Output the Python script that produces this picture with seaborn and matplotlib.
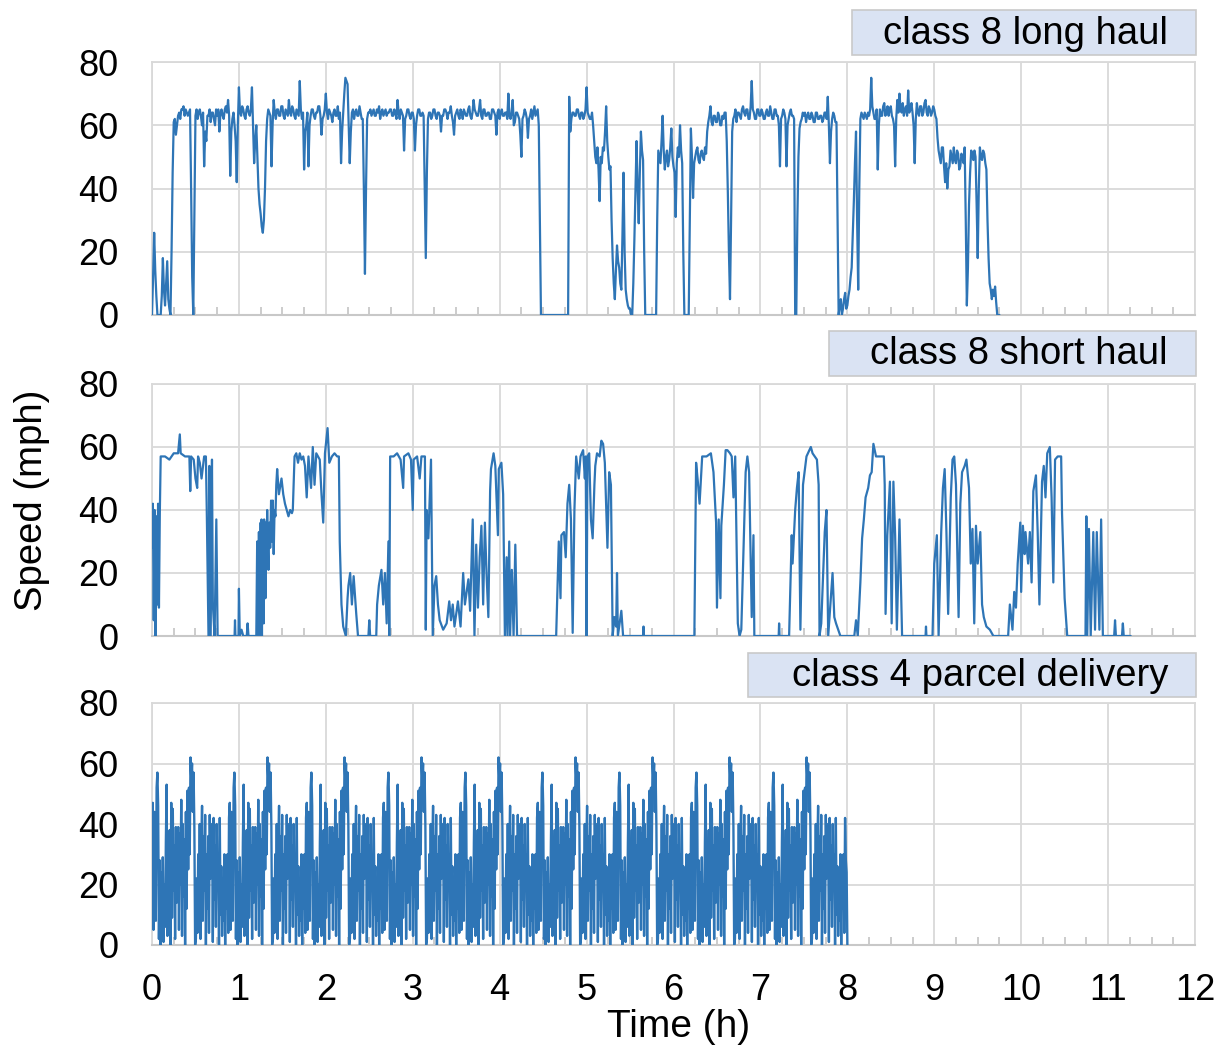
import numpy as np
import pandas as pd
import matplotlib
matplotlib.use("Agg")
import matplotlib.pyplot as plt
import seaborn as sns
from matplotlib.patches import Rectangle
from matplotlib.ticker import MultipleLocator

# ---------------- data ----------------
# class 8 long haul: speed (mph) sampled every 0.0125 h (one row = a quarter hour)
LONG_STEP_H = 0.0125
LONG_V = [
    0, 12, 26, 14, 6, 0, 0, 0, 0, 6, 18, 8, 3, 10, 17, 5, 2, 0, 20, 45,
    61, 62, 57, 60, 63, 64, 62, 65, 65, 66, 63, 65, 64, 63, 64, 65, 40, 12, 0, 30,
    63, 65, 62, 64, 65, 63, 60, 64, 47, 58, 55, 63, 63, 65, 61, 64, 64, 62, 60, 65,
    63, 65, 58, 64, 65, 63, 62, 65, 66, 64, 68, 63, 44, 58, 62, 64, 60, 55, 42, 60,
    72, 64, 63, 66, 65, 63, 62, 65, 66, 64, 63, 65, 72, 60, 48, 55, 60, 50, 40, 35,
    32, 28, 26, 30, 40, 55, 62, 65, 64, 63, 47, 60, 68, 64, 62, 65, 65, 63, 63, 66,
    66, 63, 62, 65, 64, 63, 68, 64, 63, 66, 65, 63, 62, 65, 64, 63, 74, 65, 62, 64,
    46, 58, 60, 64, 47, 60, 63, 65, 65, 63, 62, 64, 64, 66, 66, 63, 57, 62, 63, 65,
    70, 64, 62, 65, 64, 63, 61, 64, 65, 63, 63, 66, 62, 64, 48, 58, 64, 70, 75, 74,
    73, 60, 48, 58, 64, 65, 62, 64, 65, 63, 63, 66, 64, 62, 62, 40, 13, 40, 62, 64,
    64, 65, 63, 64, 65, 63, 63, 65, 64, 66, 62, 64, 65, 63, 64, 65, 63, 64, 64, 65,
    65, 63, 63, 65, 64, 62, 68, 64, 62, 65, 64, 63, 52, 62, 63, 65, 65, 63, 62, 64,
    64, 62, 52, 60, 63, 65, 65, 63, 63, 64, 63, 40, 18, 45, 62, 64, 64, 62, 63, 65,
    65, 63, 62, 64, 64, 63, 58, 63, 63, 65, 65, 64, 62, 64, 64, 66, 63, 61, 57, 63,
    64, 65, 63, 62, 65, 64, 62, 65, 64, 63, 63, 65, 66, 63, 62, 64, 68, 65, 64, 63,
    63, 65, 68, 63, 62, 65, 65, 63, 63, 64, 64, 62, 62, 65, 65, 64, 63, 57, 64, 65,
    62, 64, 65, 63, 63, 64, 64, 62, 70, 63, 62, 64, 68, 60, 61, 64, 64, 63, 62, 57,
    50, 62, 63, 65, 64, 62, 56, 62, 63, 65, 62, 64, 66, 63, 64, 65, 60, 30, 0, 0,
    0, 0, 0, 0, 0, 0, 0, 0, 0, 0, 0, 0, 0, 0, 0, 0, 0, 0, 0, 0,
    0, 0, 0, 0, 69, 58, 62, 64, 64, 63, 63, 65, 65, 63, 62, 64, 64, 62, 63, 65,
    72, 64, 63, 62, 62, 64, 60, 55, 50, 48, 53, 46, 36, 50, 48, 53, 52, 58, 66, 55,
    50, 46, 47, 30, 18, 10, 5, 14, 22, 17, 15, 10, 8, 25, 45, 20, 8, 5, 3, 2,
    2, 0, 0, 10, 24, 40, 55, 40, 29, 45, 58, 52, 49, 20, 0, 0, 0, 0, 0, 0,
    0, 0, 0, 0, 0, 30, 52, 50, 48, 55, 63, 52, 46, 50, 52, 47, 49, 53, 59, 50,
    47, 45, 31, 48, 53, 50, 60, 52, 48, 20, 0, 0, 0, 0, 0, 30, 59, 50, 37, 48,
    50, 52, 53, 49, 48, 51, 52, 50, 49, 53, 51, 58, 61, 63, 66, 61, 60, 63, 63, 61,
    61, 64, 63, 60, 60, 63, 62, 64, 64, 55, 39, 20, 5, 30, 58, 62, 63, 65, 61, 64,
    64, 63, 62, 65, 66, 64, 63, 65, 65, 62, 62, 66, 74, 65, 64, 62, 62, 65, 65, 63,
    63, 65, 64, 62, 62, 64, 65, 63, 63, 66, 64, 62, 62, 65, 65, 63, 63, 60, 47, 62,
    63, 65, 64, 62, 47, 60, 62, 64, 65, 63, 63, 62, 0, 0, 30, 50, 59, 61, 62, 64,
    63, 64, 61, 63, 64, 62, 62, 64, 63, 61, 61, 64, 64, 62, 62, 63, 63, 61, 62, 64,
    64, 62, 69, 60, 48, 58, 62, 64, 63, 61, 61, 30, 0, 3, 5, 0, 2, 5, 7, 2,
    3, 6, 8, 12, 15, 25, 36, 48, 58, 30, 8, 40, 62, 64, 63, 62, 64, 63, 62, 64,
    63, 65, 75, 66, 64, 62, 62, 65, 46, 60, 65, 63, 63, 66, 67, 63, 64, 66, 63, 65,
    66, 63, 62, 60, 47, 62, 68, 64, 70, 65, 64, 67, 63, 65, 66, 63, 71, 64, 65, 67,
    64, 60, 48, 62, 67, 64, 63, 66, 66, 63, 64, 67, 68, 64, 63, 66, 65, 63, 64, 66,
    65, 63, 62, 56, 52, 50, 48, 53, 53, 47, 42, 48, 40, 46, 47, 52, 50, 48, 53, 49,
    48, 52, 51, 46, 47, 51, 50, 48, 53, 30, 3, 15, 35, 45, 52, 51, 49, 52, 50, 35,
    18, 40, 53, 50, 49, 52, 51, 48, 46, 30, 18, 10, 8, 5, 8, 6, 9, 4, 0, 0,
    0,
]

# class 8 short haul: (time h, speed mph) breakpoints
SHORT_T = [
    0.0, 0.01, 0.02, 0.03, 0.04, 0.05, 0.06, 0.07, 0.08, 0.09, 0.10, 0.15, 0.2, 0.25, 0.3, 0.32, 0.33, 0.38, 0.4, 0.43,
    0.44, 0.45, 0.48, 0.5, 0.52, 0.53, 0.55, 0.57, 0.6, 0.62, 0.63, 0.65, 0.66, 0.675, 0.69, 0.70, 0.72, 0.74, 0.755, 0.95,
    0.955, 0.96, 0.995, 1.0, 1.01, 1.03, 1.05, 1.09, 1.1, 1.11,
    1.2, 1.21, 1.215, 1.22, 1.225, 1.23, 1.235, 1.24, 1.25, 1.255, 1.26, 1.265, 1.27, 1.275, 1.28, 1.285, 1.29,
    1.30, 1.305, 1.31, 1.32, 1.325, 1.33, 1.34, 1.35, 1.36, 1.37, 1.38, 1.39, 1.40, 1.41, 1.42, 1.43, 1.44,
    1.46, 1.49, 1.51, 1.53, 1.55, 1.57, 1.59, 1.61, 1.62, 1.64, 1.66, 1.68, 1.70, 1.72,
    1.74, 1.76, 1.78, 1.80, 1.83, 1.85, 1.87, 1.89, 1.91, 1.93, 1.95, 1.97, 1.99, 2.02, 2.04, 2.07, 2.10, 2.13, 2.15, 2.16,
    2.18, 2.2, 2.23, 2.25, 2.26, 2.28, 2.30, 2.32, 2.35, 2.37, 2.49, 2.5, 2.51, 2.58, 2.59, 2.61, 2.64, 2.66, 2.68, 2.70,
    2.72, 2.73, 2.74, 2.78, 2.82, 2.86, 2.89, 2.90, 2.95, 2.98, 3.0, 3.01, 3.05, 3.08, 3.1, 3.14, 3.15, 3.16, 3.18, 3.21,
    3.23, 3.25, 3.27, 3.29, 3.31, 3.35, 3.39, 3.42, 3.44, 3.46, 3.48, 3.52, 3.55, 3.58, 3.60, 3.64, 3.66, 3.69, 3.71, 3.73,
    3.75, 3.77, 3.79, 3.81, 3.83, 3.85, 3.87, 3.89, 3.90, 3.93, 3.95, 3.98, 3.99, 4.02, 4.04, 4.06, 4.08, 4.09, 4.11, 4.12,
    4.14, 4.16, 4.18, 4.20, 4.65, 4.66, 4.68, 4.70, 4.71, 4.74, 4.76, 4.78, 4.80, 4.82, 4.84, 4.86, 4.88, 4.91, 4.93, 4.96,
    4.98, 4.99, 5.0, 5.01, 5.03, 5.05, 5.07, 5.09, 5.10, 5.12, 5.15, 5.17, 5.19, 5.21, 5.24, 5.26, 5.28, 5.29, 5.30, 5.32,
    5.34, 5.35, 5.36, 5.38, 5.40, 5.42, 5.65, 5.655, 5.66, 6.24, 6.26, 6.28, 6.30, 6.33, 6.38, 6.43, 6.46, 6.49, 6.50, 6.52,
    6.54, 6.55, 6.58, 6.60, 6.62, 6.65, 6.67, 6.69, 6.71, 6.74, 6.76, 6.78, 6.83, 6.85, 6.87, 6.90, 6.92, 6.93, 7.21, 7.215,
    7.22, 7.33, 7.36, 7.37, 7.40, 7.42, 7.44, 7.46, 7.49, 7.53, 7.58, 7.60, 7.65, 7.67, 7.68, 7.70, 7.74, 7.76, 7.78, 7.83,
    7.85, 7.87, 7.92, 8.08, 8.10, 8.12, 8.15, 8.17, 8.19, 8.21, 8.24, 8.26, 8.28, 8.30, 8.33, 8.37, 8.42, 8.43, 8.44, 8.46,
    8.49, 8.51, 8.53, 8.55, 8.57, 8.60, 8.63, 8.90, 8.905, 8.91, 8.98, 9.0, 9.03, 9.05, 9.08, 9.10, 9.12, 9.14, 9.16, 9.19,
    9.21, 9.23, 9.25, 9.28, 9.30, 9.32, 9.35, 9.37, 9.40, 9.42, 9.44, 9.46, 9.48, 9.50, 9.53, 9.55, 9.57, 9.60, 9.64, 9.68,
    9.85, 9.87, 9.90, 9.92, 9.94, 9.96, 9.99, 10.0, 10.02, 10.04, 10.05, 10.08, 10.10, 10.12, 10.14, 10.17, 10.19, 10.21, 10.24, 10.26,
    10.28, 10.30, 10.33, 10.35, 10.37, 10.39, 10.42, 10.46, 10.47, 10.50, 10.53, 10.74, 10.75, 10.76, 10.78, 10.80, 10.83, 10.85, 10.87, 10.90,
    10.92, 10.94, 11.07, 11.08, 11.09, 11.16, 11.17, 11.18, 11.26,
]
SHORT_V = [
    28, 42, 5, 40, 0, 38, 10, 42, 9, 39, 57, 57, 56, 58, 58, 64, 58, 57, 57, 57,
    46, 57, 56, 50, 47, 57, 55, 50, 57, 57, 40, 0, 54, 0, 56, 10, 0, 37, 0, 0,
    5, 0, 0, 15, 0, 2, 0, 0, 4, 0,
    0, 30, 8, 29, 0, 33, 5, 0, 36, 12, 37, 0, 36, 14, 36, 4, 37,
    30, 12, 36, 22, 40, 30, 21, 36, 28, 43, 30, 43, 26, 40, 38, 48, 53,
    45, 50, 45, 42, 40, 38, 40, 39, 40, 57, 58, 55, 58, 56,
    57, 54, 44, 57, 47, 60, 48, 58, 57, 56, 45, 36, 58, 66, 55, 57, 58, 57, 57, 30,
    10, 3, 0, 12, 16, 20, 10, 19, 7, 0, 0, 5, 0, 0, 10, 16, 21, 10, 20, 4,
    30, 0, 57, 57, 58, 56, 47, 57, 58, 56, 40, 56, 57, 50, 57, 57, 2, 40, 31, 56,
    0, 16, 19, 10, 5, 2, 4, 11, 5, 10, 3, 11, 3, 20, 10, 18, 8, 37, 0, 29,
    9, 25, 35, 10, 36, 19, 6, 46, 53, 58, 54, 32, 53, 55, 45, 0, 25, 0, 30, 0,
    21, 0, 29, 0, 0, 10, 30, 12, 32, 33, 25, 42, 48, 37, 1, 40, 57, 50, 57, 59,
    50, 57, 0, 57, 58, 37, 31, 48, 54, 58, 57, 62, 61, 55, 28, 52, 48, 23, 0, 6,
    3, 20, 0, 4, 8, 0, 0, 3, 0, 0, 55, 49, 42, 57, 57, 58, 52, 36, 9, 37,
    12, 35, 48, 59, 59, 58, 57, 44, 57, 4, 0, 2, 52, 57, 52, 6, 32, 0, 0, 4,
    0, 0, 32, 23, 40, 47, 52, 2, 48, 57, 60, 58, 56, 48, 0, 4, 33, 40, 0, 20,
    6, 4, 0, 0, 5, 0, 17, 31, 37, 44, 47, 51, 52, 61, 57, 57, 57, 48, 7, 32,
    49, 4, 49, 32, 2, 37, 0, 0, 3, 0, 0, 23, 32, 0, 33, 47, 53, 33, 7, 44,
    56, 57, 48, 6, 42, 52, 54, 56, 47, 23, 34, 4, 35, 23, 33, 10, 6, 3, 2, 0,
    0, 10, 2, 14, 9, 23, 36, 14, 35, 26, 33, 23, 33, 17, 46, 51, 33, 10, 49, 54,
    44, 58, 60, 44, 17, 56, 57, 57, 39, 12, 0, 0, 38, 0, 34, 0, 33, 2, 33, 2,
    37, 0, 0, 5, 0, 0, 4, 0, 0,
]

# class 4 parcel delivery: one repeating drive cycle (speed mph), repeated 9 times, then final samples
PARCEL_CYCLE_H = 0.886
PARCEL_CYCLE_V = [
    42, 47, 5, 44, 30, 8, 52, 57, 46, 2,
    28, 0, 24, 5, 29, 1, 20, 6, 34, 53,
    3, 30, 12, 38, 0, 47, 9, 45, 18, 33,
    2, 39, 14, 30, 39, 5, 37, 20, 48, 3,
    40, 16, 35, 0, 44, 12, 51, 25, 52, 30,
    62, 55, 60, 44, 57, 39, 0, 2, 22, 4,
    30, 10, 40, 2, 33, 46, 8, 36, 18, 43,
    0, 30, 12, 36, 4, 43, 22, 28, 40, 1,
    42, 15, 33, 6, 40, 20, 30, 0, 42, 10,
    26, 3, 22, 8, 30, 0, 25, 12, 30, 4,
]
PARCEL_REPEATS = 9
PARCEL_TAIL_V = [42, 28, 24, 0]

TITLES = ["class 8 long haul", "class 8 short haul", "class 4 parcel delivery"]
X_TICKS = list(range(0, 13))
Y_TICKS = [0, 20, 40, 60, 80]

# ---------------- build frames ----------------
long_df = pd.DataFrame({"t": np.arange(len(LONG_V)) * LONG_STEP_H, "v": LONG_V})
short_df = pd.DataFrame({"t": SHORT_T, "v": SHORT_V})
parcel_v = list(PARCEL_CYCLE_V) * PARCEL_REPEATS + PARCEL_TAIL_V
dt = PARCEL_CYCLE_H / len(PARCEL_CYCLE_V)
parcel_df = pd.DataFrame({"t": np.arange(len(parcel_v)) * dt, "v": parcel_v})
frames = [long_df, short_df, parcel_df]
widths = [1.6, 1.6, 1.7]

# ---------------- style ----------------
sns.set_theme(style="white")
plt.rcParams['font.family'] = ['Liberation Sans', 'DejaVu Sans']

W_PX, H_PX = 1225, 1048
fig = plt.figure(figsize=(W_PX / 100, H_PX / 100), dpi=100)
fig.patch.set_facecolor("white")

LINE_C = "#2e75b6"
GRID_C = "#d9d9d9"
left_px, right_px = 152, 1195
panels = [(62, 315), (384, 636), (703, 945)]
boxes = [(852, 10, 1196, 55), (829, 331, 1196, 376), (748, 653, 1196, 697)]

for i, ((top, bot), df, title, box, lw) in enumerate(zip(panels, frames, TITLES, boxes, widths)):
    ax = fig.add_axes([left_px / W_PX, 1 - bot / H_PX, (right_px - left_px) / W_PX, (bot - top) / H_PX])
    sns.lineplot(data=df, x="t", y="v", ax=ax, color=LINE_C, lw=lw,
                 estimator=None, sort=False, zorder=3)
    ax.set_xlim(0, 12)
    ax.set_ylim(0, 80)
    ax.set_xticks(X_TICKS)
    ax.set_yticks(Y_TICKS)
    ax.xaxis.set_minor_locator(MultipleLocator(0.25))
    ax.grid(True, which="major", color=GRID_C, lw=1.3, zorder=0)
    ax.set_axisbelow(True)
    for s in ["top", "right", "left"]:
        ax.spines[s].set_color(GRID_C)
        ax.spines[s].set_linewidth(1.3)
    ax.spines["bottom"].set_color("#c8c8c8")
    ax.spines["bottom"].set_linewidth(1.5)
    ax.tick_params(axis="both", which="major", length=0, labelsize=26, colors="black")
    ax.tick_params(axis="y", pad=24)
    ax.tick_params(axis="x", pad=20)
    ax.tick_params(axis="x", which="minor", direction="in", length=6, width=1.3,
                   color="#c8c8c8", bottom=True)
    ax.set_xlabel("")
    ax.set_ylabel("")
    if i < 2:
        ax.set_xticklabels([])
    for lab in ax.get_yticklabels() + ax.get_xticklabels():
        lab.set_fontsize(26)

    x0, y0, x1, y1 = box
    fig.patches.append(Rectangle((x0 / W_PX, 1 - y1 / H_PX), (x1 - x0) / W_PX, (y1 - y0) / H_PX,
                                 transform=fig.transFigure, facecolor="#dae3f3",
                                 edgecolor="#c9c9c9", lw=1.2, zorder=5))
    fig.text(1168 / W_PX, 1 - ((y0 + y1) / 2 + 1) / H_PX, title, ha="right", va="center",
             fontsize=27.5, color="black", zorder=6)

fig.text(32 / W_PX, 1 - 500 / H_PX, "Speed (mph)", rotation=90, ha="center", va="center",
         fontsize=27.5, color="black")
fig.text(679 / W_PX, 1 - 1027 / H_PX, "Time (h)", ha="center", va="center",
         fontsize=28, color="black")

fig.savefig("out.png", dpi=100, facecolor="white")
